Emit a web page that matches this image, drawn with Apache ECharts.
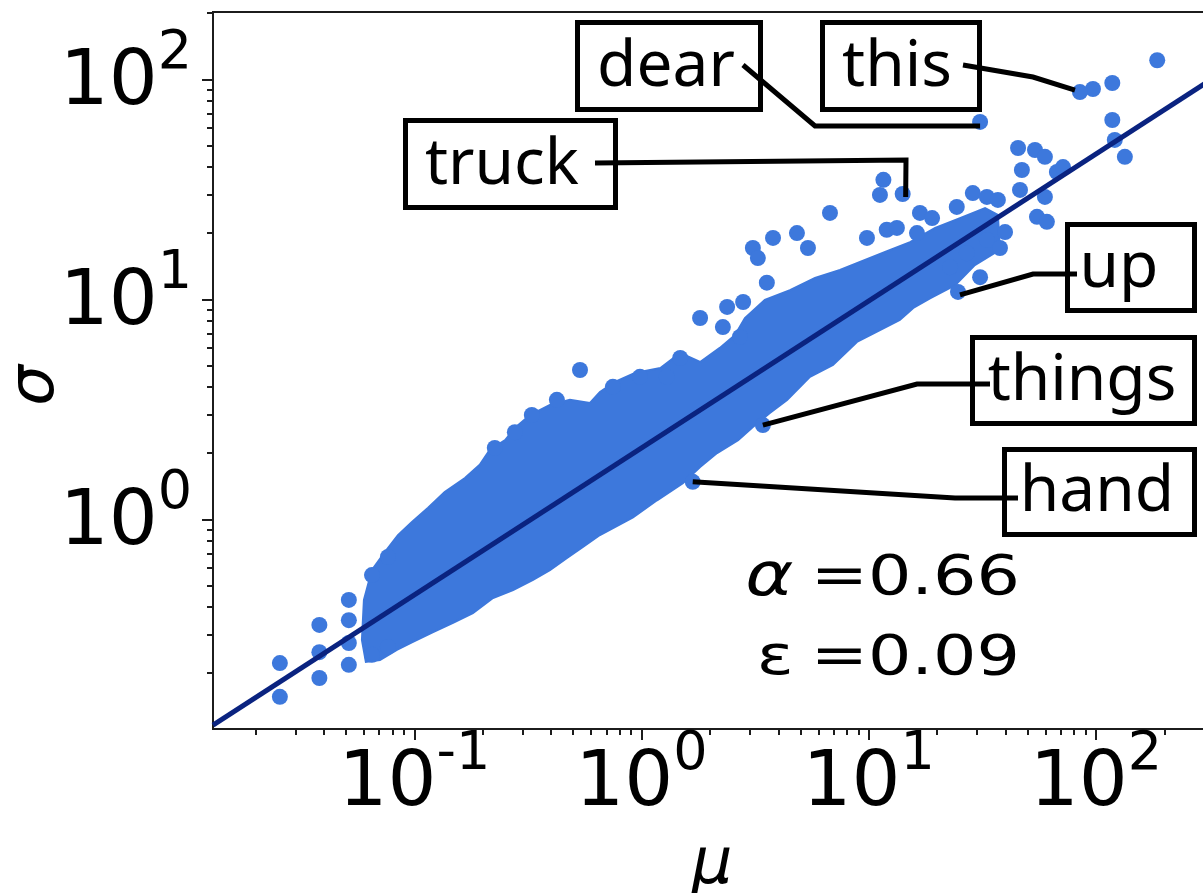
<!DOCTYPE html>
<html>
<head>
<meta charset="utf-8">
<script src="https://cdn.jsdelivr.net/npm/echarts@6/dist/echarts.min.js"></script>
<style>
html,body{margin:0;padding:0;background:#ffffff;}
#chart{width:1203px;height:893px;}
</style>
</head>
<body>
<div id="chart"></div>
<script>
// ---------------- data ----------------
const xTickValues = [0.1, 1, 10, 100];
const xTickExponents = ['-1', '0', '1', '2'];
const xMinorTicks = [0.02, 0.03, 0.04, 0.05, 0.06, 0.07, 0.08, 0.09,
  0.2, 0.3, 0.4, 0.5, 0.6, 0.7, 0.8, 0.9,
  2, 3, 4, 5, 6, 7, 8, 9,
  20, 30, 40, 50, 60, 70, 80, 90, 200, 300];
const yTickValues = [1, 10, 100];
const yTickExponents = ['0', '1', '2'];
const yMinorTicks = [0.2, 0.3, 0.4, 0.5, 0.6, 0.7, 0.8, 0.9,
  2, 3, 4, 5, 6, 7, 8, 9,
  20, 30, 40, 50, 60, 70, 80, 90, 200];

// outline of the solid, densely over-plotted core of the cloud (mu, sigma)
const coreMu = [0.0588, 0.0600, 0.0651, 0.0742, 0.0847, 0.0976, 0.115, 0.136, 0.167, 0.194,
  0.215, 0.251, 0.277, 0.323, 0.395, 0.484, 0.593, 0.656, 0.764, 0.935,
  1.21, 1.48, 1.81, 2.21, 2.58, 2.85, 3.49, 4.50, 5.80, 7.47,
  9.15, 11.8, 15.2, 19.6, 25.2, 32.5, 37.0,
  37.8, 29.3, 24.0, 18.6, 15.7, 13.7, 11.2, 8.87, 6.96, 5.51,
  4.37, 3.67, 3.09, 2.66, 2.15, 1.81, 1.52, 1.17, 0.917, 0.656,
  0.552, 0.470, 0.395, 0.333, 0.272, 0.222, 0.181, 0.148, 0.121, 0.0986,
  0.0838, 0.0706, 0.0612];
const coreSigma = [0.283, 0.430, 0.588, 0.710, 0.848, 0.972, 1.13, 1.33, 1.54, 1.77,
  2.07, 2.29, 2.60, 2.98, 3.31, 3.49, 3.38, 3.79, 4.21, 4.62,
  4.87, 5.70, 5.19, 6.01, 6.88, 8.22, 9.93, 11.0, 12.5, 13.6,
  14.8, 16.4, 18.2, 21.1, 23.4, 26.0, 24.2,
  16.8, 14.3, 11.6, 10.1, 9.13, 8.05, 7.25, 6.40, 5.03, 4.44,
  3.49, 3.04, 2.63, 2.29, 2.00, 1.73, 1.46, 1.22, 1.02, 0.848,
  0.748, 0.667, 0.588, 0.530, 0.477, 0.439, 0.375, 0.338, 0.307, 0.277,
  0.255, 0.229, 0.225];

// individually visible points (mu, sigma)
const pointMu = [0.0256, 0.0256, 0.0382, 0.0382, 0.0382, 0.0515, 0.0515, 0.0515, 0.0515, 0.0651,
  0.0651, 0.0765, 0.0765,
  0.536, 0.424, 0.329, 0.277, 0.226, 1.81, 3.09, 3.25, 3.79, 4.83,
  5.40, 1.48, 1.29, 0.984, 0.748, 3.56, 2.38, 2.80, 2.28, 2.71,
  6.75, 11.6, 11.2, 9.82, 12.0, 13.3, 16.8, 19.0, 16.3, 24.4,
  28.7, 33.1, 37.0, 46.3, 47.2, 45.4, 53.9, 59.6, 67.3, 71.6,
  59.6, 55.0, 60.8, 97.0, 118, 118, 121, 134, 186,
  22.8, 27.0, 33.1, 37.8, 30.9, 39.8];
const pointSigma = [0.222, 0.156, 0.331, 0.249, 0.190, 0.430, 0.348, 0.274, 0.218, 0.558,
  0.242, 0.263, 0.674,
  4.77, 3.49, 2.98, 2.49, 2.11, 8.22, 17.1, 15.4, 19.0, 20.0,
  17.1, 5.41, 4.44, 4.44, 4.00, 11.9, 9.23, 9.72, 7.48, 6.74,
  24.7, 34.9, 29.8, 19.0, 20.7, 21.1, 24.7, 23.4, 20.0, 26.3,
  30.4, 29.2, 28.3, 31.4, 38.7, 48.7, 47.7, 44.4, 37.9, 39.9,
  29.2, 23.7, 22.5, 90.3, 96.2, 65.3, 53.0, 44.4, 122,
  14.0, 16.2, 18.6, 17.1, 12.6, 20.2];

// labelled words
const annotationWords = ['dear', 'this', 'truck', 'up', 'things', 'hand'];
const annotationMu = [30.9, 85.0, 14.1, 24.7, 3.42, 1.68];
const annotationSigma = [64.0, 87.5, 30.1, 10.8, 2.68, 1.48];

// fitted power law, read at both ends of the drawn line
const fitMu = [0.013, 320];
const fitSigma = [0.116, 99.5];

const alphaText = '0.66';
const epsilonText = '0.09';

// ---------------- layout & style ----------------
const X_MIN = 0.0130, X_MAX = 320.8, Y_MIN = 0.1114, Y_MAX = 202.2;
const AXIS_COLOR = '#1c1c1c';
const POINT_COLOR = '#3d78dc';
const FIT_COLOR = '#0a2380';
const WORD_FONT = '64px "Noto Sans"';

const annotationLayout = {
  dear:   { box: [575, 20, 188, 92],   textX: 666,  baseline: 92,  path: [[743, 65], [815, 126]],  end: [0, 4] },
  this:   { box: [820, 20, 162, 92],   textX: 897,  baseline: 92,  path: [[963, 65], [1033, 77]],  end: [-5, -2] },
  truck:  { box: [403, 118, 215, 92],  textX: 502,  baseline: 190, path: [[595, 163], [906, 160]], end: [3, 3] },
  up:     { box: [1065, 222, 132, 91], textX: 1119, baseline: 293, path: [[1077, 274], [1033, 274]], end: [2, 3] },
  things: { box: [970, 335, 227, 91],  textX: 1082, baseline: 406, path: [[990, 384], [917, 384]], end: [0, 0] },
  hand:   { box: [1002, 447, 195, 90], textX: 1097, baseline: 517, path: [[1018, 498], [955, 498]], end: [0, 0] }
};

function powerLabel(values, exps) {
  return function (v) {
    for (let i = 0; i < values.length; i++) {
      if (Math.abs(Math.log10(values[i]) - Math.log10(v)) < 1e-6) {
        return '{b|10}{s|' + exps[i] + '}';
      }
    }
    return '';
  };
}
const labelRich = {
  b: { fontFamily: 'DejaVu Sans', fontSize: 77, lineHeight: 100, color: '#000' },
  s: { fontFamily: 'DejaVu Sans', fontSize: 54, lineHeight: 40, padding: [0, 0, 60, 0], color: '#000' }
};
const tickLine = { color: AXIS_COLOR, width: 2 };

const chart = echarts.init(document.getElementById('chart'), null, { renderer: 'canvas' });

const scatterData = pointMu.map((m, i) => [m, pointSigma[i]])
  .concat(annotationMu.map((m, i) => [m, annotationSigma[i]]));

chart.setOption({
  animation: false,
  backgroundColor: '#ffffff',
  grid: {
    left: 213, top: 12, width: 998, height: 717,
    show: true, borderColor: AXIS_COLOR, borderWidth: 2, backgroundColor: 'transparent',
    containLabel: false, outerBoundsMode: 'none'
  },
  xAxis: [
    {
      type: 'log', logBase: 10, min: X_MIN, max: X_MAX, position: 'bottom',
      axisLine: { show: false }, splitLine: { show: false }, minorTick: { show: false },
      axisTick: { show: true, inside: false, length: 11, customValues: xTickValues, lineStyle: tickLine },
      axisLabel: { customValues: xTickValues, formatter: powerLabel(xTickValues, xTickExponents), margin: 6, rich: labelRich },
      name: 'μ', nameLocation: 'middle', nameGap: 105, nameMoveOverlap: false,
      nameTextStyle: { fontFamily: 'DejaVu Sans', fontStyle: 'italic', fontSize: 64, color: '#000' }
    },
    {
      type: 'log', logBase: 10, min: X_MIN, max: X_MAX, position: 'bottom',
      axisLine: { show: false }, splitLine: { show: false }, minorTick: { show: false },
      axisTick: { show: true, inside: false, length: 6, customValues: xMinorTicks, lineStyle: tickLine },
      axisLabel: { show: false }
    }
  ],
  yAxis: [
    {
      type: 'log', logBase: 10, min: Y_MIN, max: Y_MAX, position: 'left',
      axisLine: { show: false }, splitLine: { show: false }, minorTick: { show: false },
      axisTick: { show: true, inside: false, length: 11, customValues: yTickValues, lineStyle: tickLine },
      axisLabel: { customValues: yTickValues, formatter: powerLabel(yTickValues, yTickExponents), margin: 21, padding: [10, 0, 0, 0], rich: labelRich },
      name: 'σ', nameLocation: 'middle', nameGap: 145, nameMoveOverlap: false,
      nameTextStyle: { fontFamily: 'DejaVu Sans', fontStyle: 'italic', fontSize: 64, color: '#000', padding: [0, 30, 0, 0] }
    },
    {
      type: 'log', logBase: 10, min: Y_MIN, max: Y_MAX, position: 'left',
      axisLine: { show: false }, splitLine: { show: false }, minorTick: { show: false },
      axisTick: { show: true, inside: false, length: 6, customValues: yMinorTicks, lineStyle: tickLine },
      axisLabel: { show: false }
    }
  ],
  series: [
    {
      type: 'custom', name: 'core', xAxisIndex: 0, yAxisIndex: 0, z: 1, silent: true,
      data: [[coreMu[0], coreSigma[0]]],
      renderItem: function (params, api) {
        const pts = coreMu.map((m, i) => api.coord([m, coreSigma[i]]));
        return { type: 'polygon', shape: { points: pts }, style: { fill: POINT_COLOR, stroke: POINT_COLOR, lineWidth: 2 } };
      }
    },
    {
      type: 'scatter', name: 'words', xAxisIndex: 0, yAxisIndex: 0, z: 2,
      symbol: 'circle', symbolSize: 16,
      itemStyle: { color: POINT_COLOR, opacity: 1 },
      data: scatterData
    },
    {
      type: 'line', name: 'fit', xAxisIndex: 0, yAxisIndex: 0, z: 5,
      symbol: 'none', lineStyle: { color: FIT_COLOR, width: 5 },
      data: fitMu.map((m, i) => [m, fitSigma[i]])
    }
  ]
});

// ---------------- annotations ----------------
const graphics = [];
annotationWords.forEach(function (word, i) {
  const L = annotationLayout[word];
  const anchor = chart.convertToPixel({ xAxisIndex: 0, yAxisIndex: 0 }, [annotationMu[i], annotationSigma[i]]);
  graphics.push({
    type: 'rect', z: 100,
    shape: { x: L.box[0] + 2.5, y: L.box[1] + 2.5, width: L.box[2] - 5, height: L.box[3] - 5 },
    style: { fill: '#ffffff', stroke: '#000', lineWidth: 5 }
  });
  graphics.push({
    type: 'text', z: 101,
    style: { text: word, x: L.textX, y: L.baseline - 24, font: WORD_FONT, fill: '#000',
      align: 'center', verticalAlign: 'middle', textAlign: 'center', textVerticalAlign: 'middle' }
  });
  graphics.push({
    type: 'polyline', z: 102,
    shape: { points: L.path.concat([[anchor[0] + L.end[0], anchor[1] + L.end[1]]]) },
    style: { stroke: '#000', lineWidth: 5, fill: null }
  });
});
graphics.push({
  type: 'text', z: 101, x: 1020, y: 579, scaleX: 1.22,
  style: {
    text: '{a|α}{t|=' + alphaText + '}',
    align: 'right', verticalAlign: 'middle', textAlign: 'right', textVerticalAlign: 'middle',
    rich: {
      a: { fontFamily: 'DejaVu Sans', fontStyle: 'italic', fontSize: 60, fill: '#000', color: '#000', padding: [0, 14, 0, 0] },
      t: { fontFamily: 'DejaVu Sans', fontSize: 56, fill: '#000', color: '#000' }
    }
  }
});
graphics.push({
  type: 'text', z: 101, x: 1020, y: 659, scaleX: 1.22,
  style: {
    text: '{a|ε}{t|=' + epsilonText + '}',
    align: 'right', verticalAlign: 'middle', textAlign: 'right', textVerticalAlign: 'middle',
    rich: {
      a: { fontFamily: 'DejaVu Sans', fontSize: 56, fill: '#000', color: '#000', padding: [0, 14, 0, 0] },
      t: { fontFamily: 'DejaVu Sans', fontSize: 56, fill: '#000', color: '#000' }
    }
  }
});
chart.setOption({ graphic: { elements: graphics } });
</script>
</body>
</html>
